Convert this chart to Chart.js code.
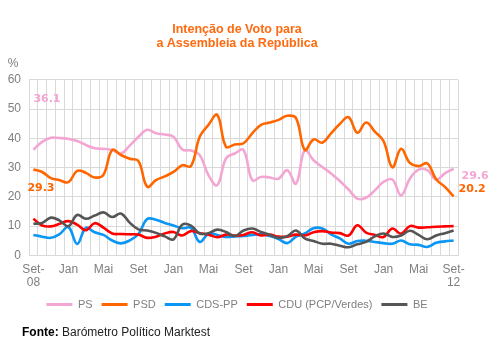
<!DOCTYPE html>
<html>
<head>
<meta charset="utf-8">
<script src="https://cdn.jsdelivr.net/npm/chart.js@4"></script>
<style>
  html, body { margin: 0; padding: 0; background: #fff; }
  #wrap { width: 494px; height: 350px; }
</style>
</head>
<body>
<div id="wrap"><canvas id="chart"></canvas></div>
<script>
// Monthly barometer, Set-08 .. Set-12
const months = ['Set-08','Out-08','Nov-08','Dez-08','Jan-09','Fev-09','Mar-09','Abr-09','Mai-09','Jun-09','Jul-09','Ago-09',
  'Set-09','Out-09','Nov-09','Dez-09','Jan-10','Fev-10','Mar-10','Abr-10','Mai-10','Jun-10','Jul-10','Ago-10',
  'Set-10','Out-10','Nov-10','Dez-10','Jan-11','Fev-11','Mar-11','Abr-11','Mai-11','Jun-11','Jul-11','Ago-11',
  'Set-11','Out-11','Nov-11','Dez-11','Jan-12','Fev-12','Mar-12','Abr-12','Mai-12','Jun-12','Jul-12','Ago-12','Set-12'];

const ps = [36.1, 38.8, 40.2, 40.1, 39.8, 39.1, 37.7, 36.6, 36.4, 36.0,
  34.8, 37.5, 40.5, 42.9, 41.7, 41.3, 40.5, 36.2, 35.8, 34.3,
  27.4, 24.0, 33.1, 34.8, 36.0, 25.7, 26.8, 26.6, 26.2, 29.1,
  24.5, 36.0, 32.5, 30.2, 28.0, 25.4, 22.5, 19.4, 19.7, 22.2,
  25.1, 25.9, 20.5, 26.2, 29.3, 29.1, 25.9, 28.0, 29.6];
const psd = [29.3, 28.5, 26.4, 25.7, 25.0, 28.9, 28.2, 26.6, 27.5, 36.0,
  34.3, 33.0, 32.2, 23.5, 25.7, 27.0, 28.5, 30.8, 30.5, 40.5,
  44.6, 48.0, 37.1, 37.9, 38.3, 41.7, 44.6, 45.4, 46.3, 47.7,
  46.9, 36.0, 39.6, 38.5, 41.7, 44.9, 47.2, 41.9, 45.4, 42.3,
  39.0, 30.1, 36.4, 31.6, 30.5, 31.4, 26.0, 23.4, 20.2];
const cds = [7.0, 6.4, 6.0, 7.3, 9.7, 3.9, 9.4, 7.9, 7.0, 5.1,
  4.1, 5.1, 7.3, 12.4, 12.2, 11.1, 10.2, 9.3, 9.4, 4.6,
  7.4, 7.0, 6.3, 6.5, 6.6, 7.0, 7.2, 6.6, 5.6, 4.2,
  6.4, 7.5, 9.3, 9.2, 7.2, 5.8, 4.0, 4.9, 5.0, 4.6,
  4.2, 4.0, 5.1, 3.8, 3.6, 2.9, 4.3, 4.8, 5.1];
const cdu = [12.5, 10.2, 9.9, 10.8, 11.7, 10.5, 8.6, 11.0, 9.5, 7.5,
  7.3, 7.2, 7.1, 6.0, 6.4, 7.5, 8.0, 6.8, 8.3, 7.6,
  7.1, 6.2, 7.1, 6.8, 7.0, 7.9, 6.8, 7.1, 6.4, 6.4,
  7.1, 6.8, 7.9, 8.3, 7.8, 7.6, 6.8, 10.3, 7.8, 7.0,
  6.3, 9.2, 7.4, 10.0, 9.5, 9.6, 9.8, 9.9, 10.0];
const be = [10.8, 11.1, 12.9, 11.9, 10.0, 13.8, 12.5, 13.6, 14.7, 13.1,
  14.3, 11.2, 8.9, 8.5, 7.7, 6.5, 5.5, 10.5, 10.2, 7.5,
  7.6, 8.8, 8.0, 6.6, 8.5, 9.2, 8.0, 7.0, 6.0, 6.6,
  8.5, 5.8, 4.9, 4.0, 4.0, 3.3, 2.8, 3.8, 4.6, 6.5,
  7.5, 6.3, 6.8, 8.4, 7.0, 5.5, 6.8, 7.6, 8.5];

const yTicks = [0, 10, 20, 30, 40, 50, 60];

const GRAY = '#7f7f7f';

// labels for first and last values of PS / PSD
const endLabels = [
  { ds: 0, idx: 0, dx: 0, dy: -51 },
  { ds: 1, idx: 0, dx: -6, dy: 19 },
  { ds: 0, idx: 48, dx: 8, dy: 7 },
  { ds: 1, idx: 48, dx: 5, dy: -7 }
];

const extras = {
  id: 'extras',
  afterDraw(chart) {
    const ctx = chart.ctx;
    const area = chart.chartArea;
    ctx.save();
    // % above the y axis
    ctx.fillStyle = GRAY;
    ctx.font = '12px "Liberation Sans"';
    ctx.textAlign = 'center';
    ctx.textBaseline = 'middle';
    ctx.fillText('%', 13, area.top - 16);

    // value labels
    ctx.font = 'bold 11px "DejaVu Sans"';
    ctx.textAlign = 'left';
    endLabels.forEach(l => {
      const ds = chart.data.datasets[l.ds];
      const pt = chart.getDatasetMeta(l.ds).data[l.idx];
      ctx.fillStyle = ds.borderColor;
      ctx.fillText(ds.data[l.idx].toFixed(1), pt.x + l.dx, pt.y + l.dy);
    });

    // source
    ctx.fillStyle = '#000';
    ctx.font = 'bold 12px "Liberation Sans"';
    ctx.fillText('Fonte:', 22, 333);
    const w = ctx.measureText('Fonte: ').width;
    ctx.fillStyle = '#222';
    ctx.font = '12px "Liberation Sans"';
    ctx.fillText('Barómetro Político Marktest', 22 + w, 333);
    ctx.restore();
  }
};

const ctx = document.getElementById('chart').getContext('2d');
const chart = new Chart(ctx, {
  type: 'line',
  data: {
    labels: months,
    datasets: [
      { label: 'PS', data: ps, borderColor: '#F4A6D3', order: 5 },
      { label: 'PSD', data: psd, borderColor: '#FF6600', order: 4 },
      { label: 'CDS-PP', data: cds, borderColor: '#0A96F5', order: 3 },
      { label: 'CDU (PCP/Verdes)', data: cdu, borderColor: '#FF0000', order: 2 },
      { label: 'BE', data: be, borderColor: '#555555', order: 1 }
    ]
  },
  options: {
    responsive: true,
    maintainAspectRatio: false,
    animation: false,
    elements: {
      line: { borderWidth: 2.6, tension: 0.4, fill: false },
      point: { radius: 0 }
    },
    layout: { padding: { top: 22, left: 6, right: 26, bottom: 30 } },
    plugins: {
      tooltip: { enabled: false },
      title: {
        display: true,
        text: ['Intenção de Voto para', 'a Assembleia da República'],
        color: '#FF6A10',
        font: { family: 'Liberation Sans', size: 12.5, weight: 'bold', lineHeight: 1.15 },
        padding: { top: 0, bottom: 29 }
      },
      legend: {
        position: 'bottom',
        labels: {
          boxWidth: 26,
          boxHeight: 3,
          padding: 9,
          color: GRAY,
          font: { family: 'Liberation Sans', size: 11 },
          generateLabels: c => c.data.datasets.map((ds, i) => ({
            text: ds.label,
            fillStyle: ds.borderColor,
            strokeStyle: ds.borderColor,
            lineWidth: 0,
            hidden: false,
            datasetIndex: i,
            fontColor: GRAY
          }))
        }
      }
    },
    scales: {
      x: {
        offset: true,
        afterFit: s => { s.height = s.height - 7; },
        grid: { offset: true, color: '#D9D9D9', drawTicks: false },
        border: { color: '#D9D9D9' },
        ticks: {
          autoSkip: false,
          maxRotation: 0,
          padding: 7,
          color: GRAY,
          font: { family: 'Liberation Sans', size: 12, lineHeight: 1.15 },
          callback: function(v, i) {
            if (i % 4 !== 0) return '';
            const parts = months[i].split('-');
            if (i === 0 || i === months.length - 1) return [parts[0] + '-', parts[1]];
            return parts[0];
          }
        }
      },
      y: {
        min: yTicks[0],
        max: yTicks[yTicks.length - 1],
        afterFit: s => { s.width = 23; },
        afterBuildTicks: s => { s.ticks = yTicks.map(v => ({ value: v })); },
        grid: { color: '#D9D9D9', drawTicks: false },
        border: { color: '#D9D9D9' },
        ticks: {
          padding: 8,
          color: GRAY,
          font: { family: 'Liberation Sans', size: 12 }
        }
      },
      // empty spacer on the right so title/legend centre like the original
      spacer: {
        position: 'right',
        grid: { display: false },
        border: { display: false },
        ticks: { display: false },
        afterFit: s => { s.width = 10; }
      }
    }
  },
  plugins: [extras]
});
</script>
</body>
</html>
